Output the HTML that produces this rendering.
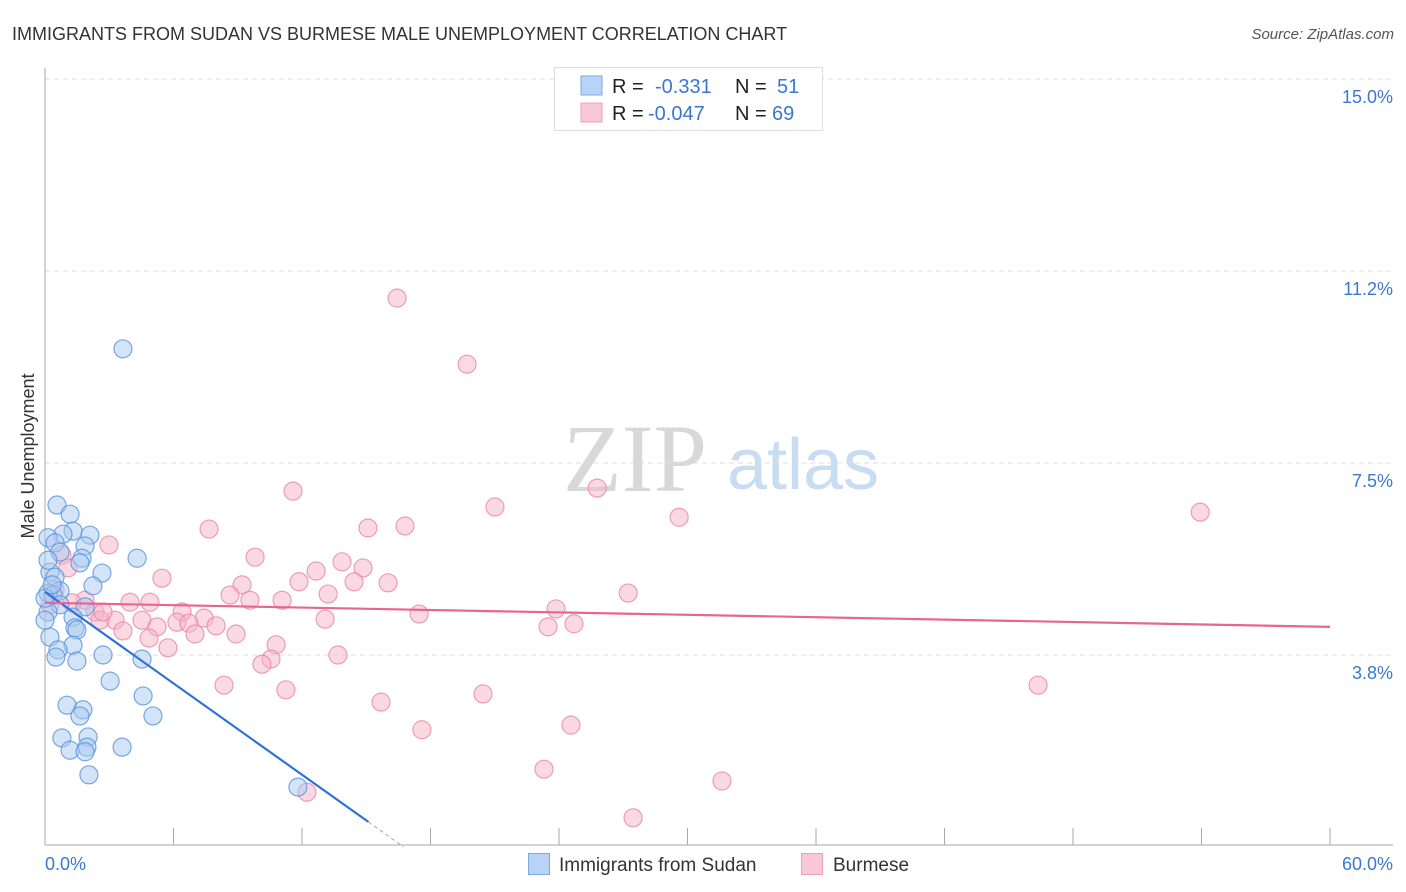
<!DOCTYPE html>
<html><head><meta charset="utf-8"><style>
body{margin:0;background:#fff;font-family:"Liberation Sans",sans-serif;}
#wrap{position:relative;width:1406px;height:892px;overflow:hidden;}
</style></head><body>
<div id="wrap">
<svg id="svg" width="1406" height="892" xmlns="http://www.w3.org/2000/svg" style="position:absolute;left:0;top:0">
<text x="12" y="40" font-size="18" fill="#333">IMMIGRANTS FROM SUDAN VS BURMESE MALE UNEMPLOYMENT CORRELATION CHART</text>
<text x="1394" y="39" font-size="15" fill="#555" font-style="italic" text-anchor="end">Source: ZipAtlas.com</text>
<text x="635" y="491" font-size="96" fill="#d8d8d8" font-family="Liberation Serif,serif" text-anchor="middle">ZIP</text>
<text x="803" y="489" font-size="72" fill="#c8dcf2" text-anchor="middle">atlas</text>
<text x="34" y="456" font-size="18" fill="#333" text-anchor="middle" transform="rotate(-90 34 456)">Male Unemployment</text>
<g id="grid"></g><g id="axes"></g><g id="pts"></g><g id="trend"></g>
<g>
<rect x="554.5" y="67.5" width="268" height="63" fill="#fff" stroke="#ddd"/>
<rect x="581" y="76" width="21" height="19" fill="#b8d3f5" stroke="#7aaae6"/>
<rect x="581" y="103" width="21" height="19" fill="#f9c8d6" stroke="#eea0b8"/>
<text x="612" y="93" font-size="20" fill="#222">R =</text><text x="655" y="93" font-size="20" fill="#3a78d0">-0.331</text>
<text x="735" y="93" font-size="20" fill="#222">N =</text><text x="777" y="93" font-size="20" fill="#3a78d0">51</text>
<text x="612" y="120" font-size="20" fill="#222">R =</text><text x="648" y="120" font-size="20" fill="#3a78d0">-0.047</text>
<text x="735" y="120" font-size="20" fill="#222">N =</text><text x="772" y="120" font-size="20" fill="#3a78d0">69</text>
</g>
<g>
<rect x="528.5" y="853.5" width="21" height="21" fill="#b8d3f5" stroke="#7aaae6"/>
<text x="559" y="871" font-size="19" fill="#333">Immigrants from Sudan</text>
<rect x="801.5" y="853.5" width="21" height="21" fill="#f9c8d6" stroke="#eea0b8"/>
<text x="833" y="871" font-size="19" fill="#333">Burmese</text>
</g>
</svg></div>
<script>
const yTicks=[3.75,7.5,11.25,15];
const yTickLabels=["3.8%","7.5%","11.2%","15.0%"];
const xTickLabels=["0.0%","60.0%"];
const sudanX=[3.64,0.56,1.17,1.31,0.84,2.10,0.14,0.47,1.87,0.70,4.30,1.73,1.63,0.23,2.66,0.47,2.24,0.70,0.14,0.37,0.70,1.87,0.14,1.31,1.40,1.49,0.23,1.31,0.61,2.71,0.51,1.49,4.53,3.04,4.58,1.03,1.77,1.63,5.04,0.79,2.01,1.96,1.17,3.60,1.87,2.05,11.81,0.0,0.0,0.33,0.14];
const sudanY=[9.73,6.68,6.50,6.17,6.11,6.09,6.04,5.94,5.88,5.76,5.64,5.64,5.55,5.37,5.35,5.27,5.10,5.00,4.96,4.92,4.73,4.69,4.59,4.49,4.28,4.24,4.10,3.94,3.85,3.75,3.71,3.63,3.67,3.24,2.95,2.77,2.68,2.56,2.56,2.13,2.15,1.95,1.89,1.95,1.86,1.41,1.17,4.86,4.43,5.12,5.60];
const burmeseX=[16.44,19.71,11.58,25.78,21.01,53.94,29.61,7.66,15.08,16.81,2.99,9.81,13.87,0.79,1.07,12.66,14.85,5.46,9.20,11.86,14.43,16.02,8.64,13.22,27.23,9.57,11.07,3.97,1.87,1.26,0.47,0.23,23.86,6.40,17.47,2.34,3.27,4.53,2.57,6.16,7.43,7.99,13.08,6.72,23.49,24.70,3.64,5.23,7.00,4.86,8.92,5.74,10.79,13.68,10.55,10.13,8.36,11.25,20.45,15.69,46.37,24.56,17.60,23.30,31.61,12.23,27.46,4.90,2.71];
const burmeseY=[10.72,9.43,6.95,7.01,6.64,6.54,6.44,6.21,6.23,6.27,5.90,5.66,5.57,5.70,5.45,5.39,5.45,5.25,5.12,5.18,5.18,5.16,4.92,4.94,4.96,4.82,4.82,4.78,4.82,4.77,5.02,4.73,4.65,4.59,4.55,4.59,4.43,4.43,4.43,4.39,4.47,4.32,4.45,4.37,4.30,4.36,4.22,4.30,4.16,4.08,4.16,3.89,3.95,3.75,3.67,3.57,3.16,3.07,2.99,2.83,3.16,2.38,2.29,1.52,1.29,1.07,0.57,4.78,4.59];
const sudanTrend=[0,4.98,15.1,0.49];
const burmeseTrend=[0,4.77,60,4.30];
const NS="http://www.w3.org/2000/svg";
const X0=45,X1=1330,YB=847;
function sx(v){return X0+v/60*(X1-X0);}
function sy(v){return YB-v/3.75*192;}
function mk(tag,attrs,parent){const e=document.createElementNS(NS,tag);for(const k in attrs)e.setAttribute(k,attrs[k]);parent.appendChild(e);return e;}
const grid=document.getElementById('grid'),axes=document.getElementById('axes'),pts=document.getElementById('pts'),tr=document.getElementById('trend');
yTicks.forEach((t,i)=>{
 const l=mk('line',{x1:45,x2:1393,y1:sy(t),y2:sy(t),stroke:'#ddd','stroke-dasharray':'5,4'},grid);
 
 
 const tx=mk('text',{x:1393,y:sy(t)+24,'font-size':18,fill:'#3a78d0','text-anchor':'end'},axes);
 tx.textContent=yTickLabels[i];
 
 
});
mk('line',{x1:45,x2:45,y1:68,y2:845,stroke:'#aaa'},axes);
mk('line',{x1:45,x2:1393,y1:845,y2:845,stroke:'#aaa'},axes);
for(let i=0;i<=10;i++){const x=sx(i*6);const t=mk('line',{x1:x,x2:x,y1:828,y2:845,stroke:'#aaa'},axes);
 
 }
[[0,'start',45],[1,'end',1393]].forEach(([i,a,x])=>{const t=mk('text',{x:x,y:870,'font-size':18,fill:'#3a78d0','text-anchor':a},axes);t.textContent=xTickLabels[i];
 
 });
function dots(xs,ys,fill,stroke,name){xs.forEach((v,i)=>{const c=mk('circle',{cx:sx(v),cy:sy(ys[i]),r:9,fill:fill,'fill-opacity':0.5,stroke:stroke,'stroke-opacity':0.8,'stroke-width':1.2},pts);
 
 });}
dots(burmeseX,burmeseY,'#f5b3c6','#e888a6','burmese-point');
dots(sudanX,sudanY,'#a9c9f1','#5a92dc','sudan-point');
let l=mk('line',{x1:sx(sudanTrend[0]),y1:sy(sudanTrend[1]),x2:sx(sudanTrend[2]),y2:sy(sudanTrend[3]),stroke:'#2f72d6','stroke-width':2.2},tr);


const slope=(sudanTrend[3]-sudanTrend[1])/(sudanTrend[2]-sudanTrend[0]);
const xe=sudanTrend[2]+(0-sudanTrend[3])/slope;
l=mk('line',{x1:sx(sudanTrend[2]),y1:sy(sudanTrend[3]),x2:sx(xe),y2:sy(0),stroke:'#aaa','stroke-width':1,'stroke-dasharray':'4,3'},tr);


l=mk('line',{x1:sx(burmeseTrend[0]),y1:sy(burmeseTrend[1]),x2:sx(burmeseTrend[2]),y2:sy(burmeseTrend[3]),stroke:'#e76592','stroke-width':2.2},tr);


</script>
</body></html>
